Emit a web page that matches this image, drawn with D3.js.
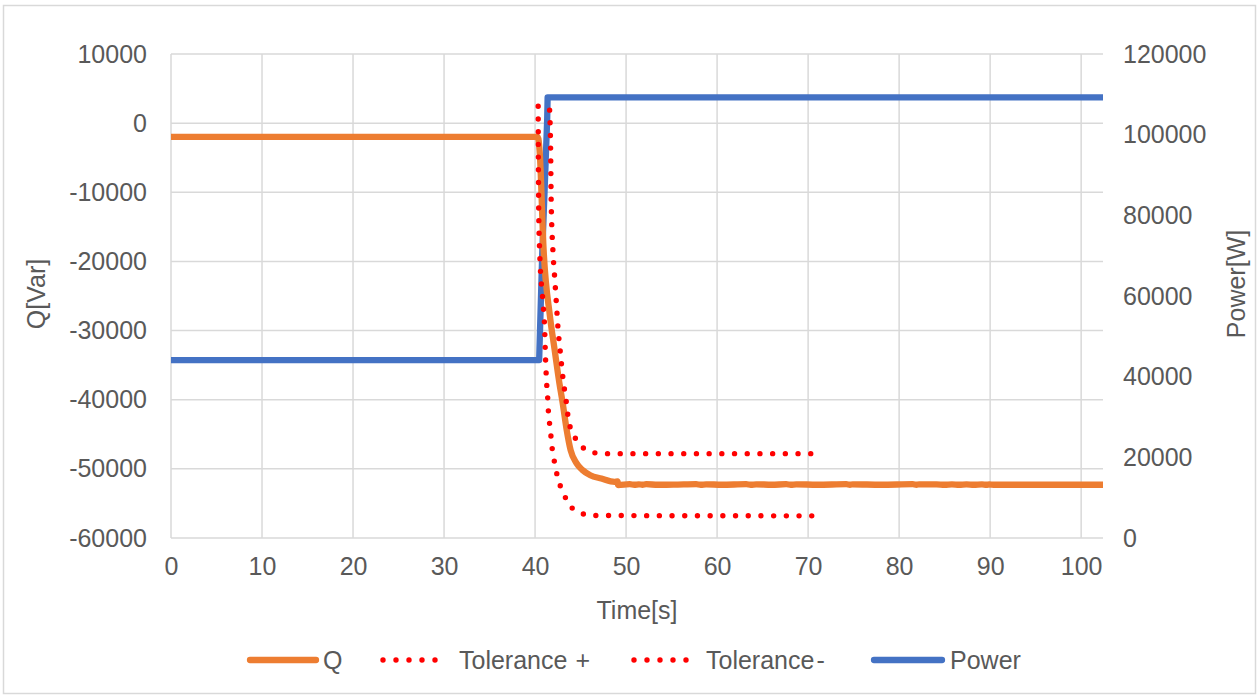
<!DOCTYPE html>
<html>
<head>
<meta charset="utf-8">
<script src="https://cdn.jsdelivr.net/npm/d3@7"></script>
<style>
  html, body { margin: 0; padding: 0; background: #fff; }
  svg { display: block; }
  text { font-family: "Liberation Sans", Arial, sans-serif; fill: #595959; }
</style>
</head>
<body>
<svg id="chart" width="1258" height="695"></svg>
<script>
// ---- data ----
// reactive power response Q [Var]
const qTime = [0, 40.3, 40.5, 40.94, 41.64, 42.15, 42.67, 43.03, 43.47, 43.91, 44.53, 45.19, 46.07, 47.28, 48.74, 49.07,
  49.12, 50.4, 50.9, 51.4, 51.8, 52.2, 53.5, 55.2, 57.7, 58.2, 58.8, 60.5, 63.2, 63.7, 64.3, 66.0, 67.6, 68.1, 68.7,
  71.0, 74.2, 74.6, 74.9, 78.0, 81.5, 81.9, 82.2, 84.1, 85.0, 85.8, 86.6, 87.4, 88.2, 89.1, 89.6, 89.9, 90.4, 102.4];
const qValue = [-2000, -2000, -4000, -18340, -27970, -32780, -37580, -40430, -44330, -47300, -49130, -50150, -50920, -51400, -51880, -51830,
  -52340, -52220, -52300, -52230, -52300, -52220, -52300, -52290, -52220, -52300, -52230, -52300, -52220, -52300, -52230, -52300, -52220, -52300, -52230,
  -52300, -52220, -52300, -52230, -52300, -52220, -52300, -52230, -52240, -52300, -52230, -52300, -52240, -52300, -52230, -52300, -52260, -52300, -52300];

// upper tolerance band
const tolPlusTime = [41.60, 41.71, 41.77, 41.97, 42.15, 42.34, 42.51, 42.78, 43.06, 43.44, 43.61, 43.88, 44.35, 45.01, 46.00, 47.28, 48.63, 71.3];
const tolPlusValue = [1880, -3900, -11120, -18630, -22240, -25990, -29450, -33200, -36820, -40430, -42300, -44080, -45380, -46630, -47460, -47790, -47800, -47800];

// lower tolerance band
const tolMinusTime = [40.34, 40.40, 40.50, 40.87, 41.05, 41.13, 41.24, 41.42, 41.49, 41.68, 41.79, 41.97, 42.23, 42.51, 42.95, 43.44, 44.05, 44.97, 46.25, 70.8];
const tolMinusValue = [2450, -12560, -18340, -25990, -29600, -33210, -36820, -40430, -42300, -44180, -46010, -47830, -49620, -51440, -52990, -54430, -55630, -56350, -56740, -56800];

// active power [W]
const powerTime = [0, 40.45, 40.80, 41.11, 41.33, 41.38, 102.4];
const powerValue = [44100, 44100, 71400, 90000, 103640, 109260, 109260];

// axis ticks
const timeTicks = [0, 10, 20, 30, 40, 50, 60, 70, 80, 90, 100];
const qTicks = [-60000, -50000, -40000, -30000, -20000, -10000, 0, 10000];
const powerTicks = [0, 20000, 40000, 60000, 80000, 100000, 120000];

const legendItems = [["Q", ""], ["Tolerance", "+"], ["Tolerance", "-"], ["Power", ""]];

// ---- layout ----
const svg = d3.select("#chart");
const plot = { left: 171, right: 1103, top: 54, bottom: 538 };
const colors = { q: "#ED7D31", tol: "#FF0000", power: "#4472C4", grid: "#D9D9D9" };
const fontSize = 25;
const lineWidth = 6.3;
const dotWidth = 5.4;

const x = d3.scaleLinear().domain([0, 102.4]).range([plot.left, plot.right]);
const yQ = d3.scaleLinear().domain([-60000, 10000]).range([plot.bottom, plot.top]);
const yP = d3.scaleLinear().domain([0, 120000]).range([plot.bottom, plot.top]);

// chart frame
svg.append("rect")
  .attr("x", 3.5).attr("y", 5.5).attr("width", 1252).attr("height", 688)
  .attr("fill", "#fff").attr("stroke", "#D9D9D9").attr("stroke-width", 1.5);

// gridlines
const grid = svg.append("g").attr("stroke", colors.grid).attr("stroke-width", 1.5);
grid.selectAll("line.h").data(qTicks).join("line")
  .attr("x1", plot.left).attr("x2", plot.right)
  .attr("y1", d => yQ(d)).attr("y2", d => yQ(d));
grid.selectAll("line.v").data(timeTicks).join("line")
  .attr("x1", d => x(d)).attr("x2", d => x(d))
  .attr("y1", plot.top).attr("y2", plot.bottom);

// axes (labels only)
function styleAxis(g) {
  g.select(".domain").remove();
  g.selectAll(".tick line").remove();
  g.selectAll(".tick text").attr("font-size", fontSize).attr("fill", "#595959")
    .style("font-family", '"Liberation Sans", Arial, sans-serif');
}
svg.append("g").attr("transform", `translate(${plot.left},0)`)
  .call(d3.axisLeft(yQ).tickValues(qTicks).tickFormat(d => String(d)).tickSize(0).tickPadding(24))
  .call(styleAxis);
svg.append("g").attr("transform", `translate(${plot.right},0)`)
  .call(d3.axisRight(yP).tickValues(powerTicks).tickFormat(d => String(d)).tickSize(0).tickPadding(20))
  .call(styleAxis);
svg.append("g").attr("transform", `translate(0,${plot.bottom})`)
  .call(d3.axisBottom(x).tickValues(timeTicks).tickFormat(d => String(d)).tickSize(0).tickPadding(19))
  .call(styleAxis);

// axis titles
svg.append("text").attr("transform", `translate(45,294) rotate(-90)`)
  .attr("text-anchor", "middle").attr("font-size", fontSize).text("Q[Var]");
svg.append("text").attr("transform", `translate(1245,284) rotate(-90)`)
  .attr("text-anchor", "middle").attr("font-size", fontSize).text("Power[W]");
svg.append("text").attr("x", (plot.left + plot.right) / 2).attr("y", 619)
  .attr("text-anchor", "middle").attr("font-size", fontSize).text("Time[s]");

// series
const zip = (t, v) => t.map((d, i) => [d, v[i]]);
const lineQ = d3.line().x(d => x(d[0])).y(d => yQ(d[1])).curve(d3.curveMonotoneX);
const lineP = d3.line().x(d => x(d[0])).y(d => yP(d[1]));

const series = svg.append("g").attr("fill", "none").attr("stroke-linejoin", "round");
series.append("path").datum(zip(powerTime, powerValue)).attr("d", lineP)
  .attr("stroke", colors.power).attr("stroke-width", lineWidth);
series.append("path").datum(zip(qTime, qValue)).attr("d", lineQ)
  .attr("stroke", colors.q).attr("stroke-width", lineWidth);
[zip(tolPlusTime, tolPlusValue), zip(tolMinusTime, tolMinusValue)].forEach(pts => {
  series.append("path").datum(pts).attr("d", lineQ).attr("stroke", colors.tol)
    .attr("stroke-width", dotWidth).attr("stroke-linecap", "round").attr("stroke-dasharray", "0 12.7");
});

// legend
const legendY = 660;
const legend = [
  { x0: 250, x1: 316, tx: 323, color: colors.q, dots: false, gap: 0 },
  { x0: 383, x1: 448, tx: 459, color: colors.tol, dots: true, gap: 8 },
  { x0: 634, x1: 699, tx: 706, color: colors.tol, dots: true, gap: 2 },
  { x0: 874, x1: 942, tx: 950, color: colors.power, dots: false, gap: 0 }
];
legend.forEach((l, i) => {
  const ln = svg.append("line").attr("x1", l.x0).attr("x2", l.x1)
    .attr("y1", legendY).attr("y2", legendY).attr("stroke", l.color).attr("stroke-linecap", "round");
  if (l.dots) {
    ln.attr("stroke-width", dotWidth).attr("stroke-dasharray", "0 13");
  } else {
    ln.attr("stroke-width", lineWidth);
  }
  const t = svg.append("text").attr("x", l.tx).attr("y", legendY).attr("dy", "0.35em")
    .attr("font-size", fontSize);
  t.append("tspan").text(legendItems[i][0]);
  if (legendItems[i][1]) t.append("tspan").attr("dx", l.gap).text(legendItems[i][1]);
});
</script>
</body>
</html>
